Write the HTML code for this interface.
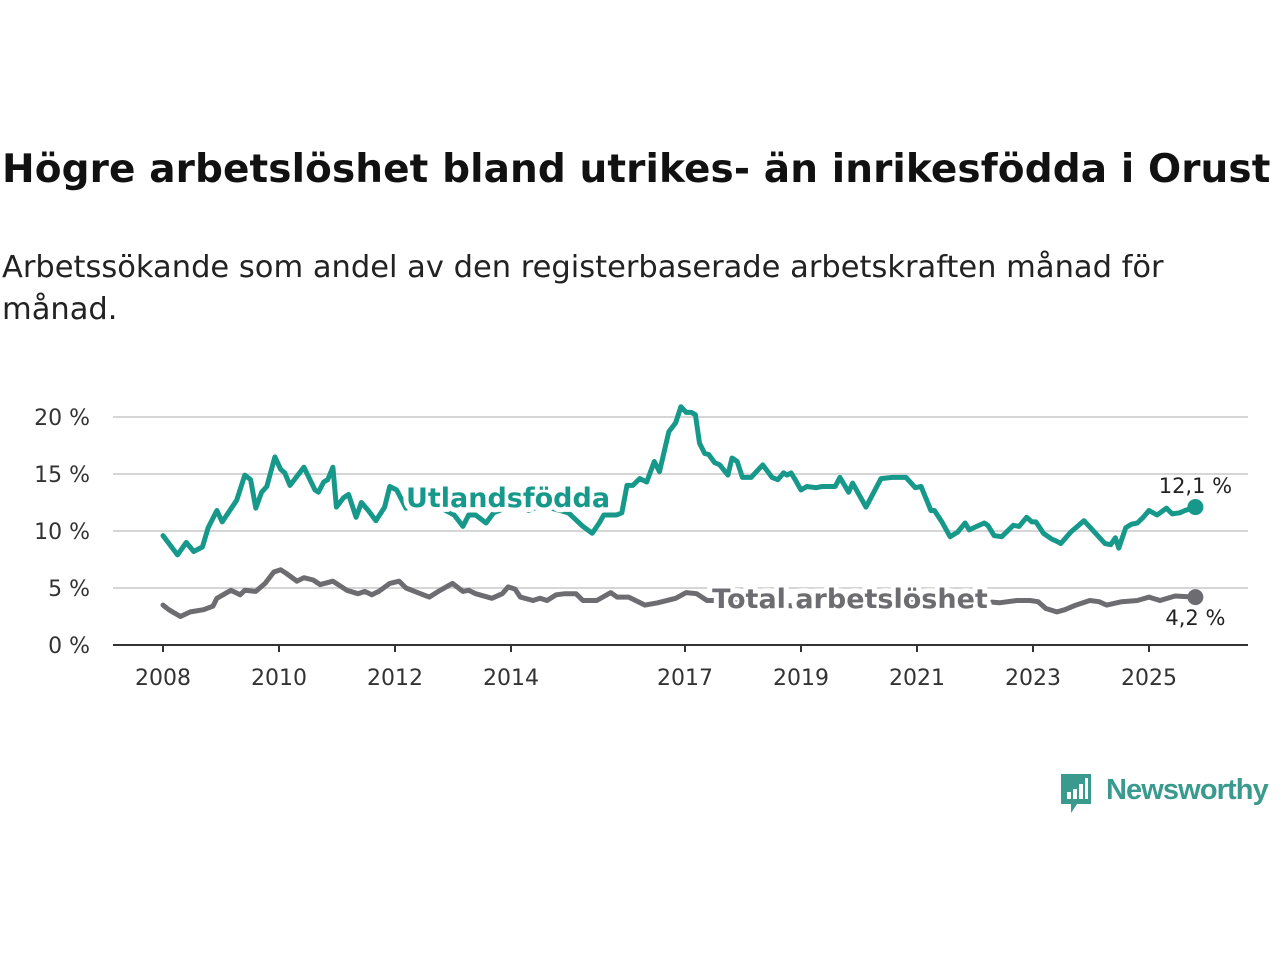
<!DOCTYPE html>
<html><head><meta charset="utf-8">
<style>
body{margin:0;background:#fff;width:1280px;height:960px;overflow:hidden;font-family:"Liberation Sans","DejaVu Sans",sans-serif;}
#title{position:absolute;left:2px;top:147px;font-size:39px;font-weight:bold;color:#111;letter-spacing:0.1px;white-space:nowrap;font-family:"DejaVu Sans","Liberation Sans",sans-serif;}
#sub{position:absolute;left:2px;top:247px;font-size:30.5px;line-height:42px;color:#222;width:1200px;font-family:"DejaVu Sans","Liberation Sans",sans-serif;}
svg{position:absolute;left:0;top:0;}
</style></head><body>
<div id="title">Högre arbetslöshet bland utrikes- än inrikesfödda i Orust</div>
<div id="sub">Arbetssökande som andel av den registerbaserade arbetskraften månad för månad.</div>
<svg id="chart" width="1280" height="960"></svg>
<div style="position:absolute;left:1059px;top:772px;">
<svg width="36" height="46" style="position:relative"><path d="M2 2h30v30H18l-6 9v-9H2z" fill="#3a9a8e"/><rect x="8" y="20" width="4" height="7" fill="#fff"/><rect x="14" y="17" width="4" height="10" fill="#fff"/><rect x="20" y="12" width="4" height="15" fill="#fff"/><rect x="26" y="6" width="3" height="21" fill="#fff"/></svg>
<span style="position:absolute;left:47px;top:2px;font-size:29px;font-weight:bold;color:#3a9a8e;white-space:nowrap;letter-spacing:-0.9px;">Newsworthy</span>
</div>
<script>
const yTicks=[0,5,10,15,20];
const xTicks=[2008,2010,2012,2014,2017,2019,2021,2023,2025];
const utlYears=[2008.0,2008.25,2008.4,2008.53,2008.68,2008.78,2008.93,2009.02,2009.27,2009.41,2009.51,2009.6,2009.7,2009.79,2009.93,2010.03,2010.1,2010.19,2010.43,2010.62,2010.68,2010.77,2010.84,2010.93,2010.99,2011.11,2011.2,2011.33,2011.42,2011.54,2011.67,2011.82,2011.91,2012.03,2012.19,2012.4,2012.6,2012.8,2013.02,2013.17,2013.27,2013.39,2013.57,2013.7,2013.9,2014.1,2014.3,2014.5,2014.7,2014.99,2015.24,2015.4,2015.52,2015.6,2015.82,2015.91,2016.0,2016.1,2016.22,2016.34,2016.47,2016.56,2016.72,2016.84,2016.93,2017.02,2017.11,2017.18,2017.25,2017.34,2017.41,2017.51,2017.6,2017.74,2017.81,2017.9,2017.99,2018.14,2018.34,2018.5,2018.6,2018.7,2018.76,2018.83,2018.9,2019.0,2019.1,2019.26,2019.36,2019.59,2019.67,2019.82,2019.89,2020.12,2020.38,2020.58,2020.81,2020.97,2021.07,2021.24,2021.3,2021.43,2021.57,2021.7,2021.83,2021.9,2022.03,2022.16,2022.22,2022.33,2022.46,2022.66,2022.76,2022.89,2022.98,2023.05,2023.18,2023.32,2023.41,2023.48,2023.65,2023.88,2024.08,2024.24,2024.34,2024.42,2024.48,2024.6,2024.7,2024.8,2024.9,2025.0,2025.14,2025.3,2025.4,2025.53,2025.62,2025.8];
const utlValues=[9.6,7.9,9.0,8.2,8.6,10.3,11.8,10.8,12.7,14.9,14.5,12.0,13.4,13.9,16.5,15.4,15.1,14.0,15.6,13.6,13.4,14.3,14.5,15.6,12.1,12.9,13.2,11.2,12.5,11.8,10.9,12.1,13.9,13.6,12.0,12.4,12.8,12.0,11.4,10.4,11.4,11.4,10.7,11.6,12.0,12.4,11.8,12.2,12.0,11.6,10.4,9.8,10.7,11.4,11.4,11.6,14.0,14.0,14.6,14.3,16.1,15.2,18.7,19.5,20.9,20.4,20.4,20.2,17.7,16.8,16.7,16.0,15.8,14.9,16.4,16.1,14.7,14.7,15.8,14.7,14.5,15.1,14.9,15.1,14.5,13.6,13.9,13.8,13.9,13.9,14.7,13.4,14.2,12.1,14.6,14.7,14.7,13.8,13.9,11.8,11.8,10.8,9.5,9.9,10.7,10.1,10.4,10.7,10.5,9.6,9.5,10.5,10.4,11.2,10.8,10.8,9.8,9.3,9.1,8.9,9.9,10.9,9.8,8.9,8.8,9.4,8.5,10.3,10.6,10.7,11.2,11.8,11.4,12.0,11.5,11.6,11.8,12.1];
const totYears=[2008.0,2008.1,2008.3,2008.47,2008.7,2008.86,2008.93,2009.17,2009.33,2009.41,2009.6,2009.76,2009.91,2010.03,2010.12,2010.31,2010.43,2010.59,2010.71,2010.93,2011.17,2011.36,2011.48,2011.6,2011.72,2011.91,2012.07,2012.19,2012.34,2012.59,2012.78,2012.99,2013.17,2013.27,2013.39,2013.67,2013.85,2013.95,2014.07,2014.16,2014.38,2014.5,2014.62,2014.78,2014.93,2015.12,2015.24,2015.48,2015.72,2015.83,2016.03,2016.31,2016.53,2016.84,2017.02,2017.2,2017.38,2017.51,2017.8,2018.2,2018.6,2019.0,2019.4,2019.8,2020.2,2020.6,2021.0,2021.4,2021.8,2022.22,2022.42,2022.72,2022.95,2023.09,2023.22,2023.41,2023.55,2023.74,2023.98,2024.14,2024.27,2024.53,2024.8,2025.0,2025.19,2025.45,2025.8];
const totValues=[3.5,3.1,2.5,2.9,3.1,3.4,4.1,4.8,4.4,4.8,4.7,5.4,6.4,6.6,6.3,5.6,5.9,5.7,5.3,5.6,4.8,4.5,4.7,4.4,4.7,5.4,5.6,5.0,4.7,4.2,4.8,5.4,4.7,4.8,4.5,4.1,4.5,5.1,4.9,4.2,3.9,4.1,3.9,4.4,4.5,4.5,3.9,3.9,4.6,4.2,4.2,3.5,3.7,4.1,4.6,4.5,3.9,3.9,3.7,3.6,3.5,3.4,3.6,3.5,4.5,4.3,3.9,3.6,3.4,3.8,3.7,3.9,3.9,3.8,3.2,2.9,3.1,3.5,3.9,3.8,3.5,3.8,3.9,4.2,3.9,4.3,4.2];

const NS='http://www.w3.org/2000/svg';
const svg=document.getElementById('chart');
const X0=113,X1=1248;
function xs(y){return 163+(y-2008)*58;}
function ys(v){return 645-v*11.4;}
function mk(tag,attrs){const e=document.createElementNS(NS,tag);for(const k in attrs)e.setAttribute(k,attrs[k]);svg.appendChild(e);return e;}
const ff='"DejaVu Sans","Liberation Sans",sans-serif';
yTicks.forEach(t=>{
  if(t>0){const g=mk('line',{x1:X0,x2:X1,y1:ys(t),y2:ys(t),stroke:'#d6d6d6','stroke-width':2});
  
  }
  const l=mk('text',{x:90,y:ys(t)+8,'text-anchor':'end','font-size':22,fill:'#333','font-family':ff});
  l.textContent=t+' %';
  
  
});
const ax=mk('line',{x1:X0,x2:X1,y1:645,y2:645,stroke:'#333','stroke-width':2});


xTicks.forEach(t=>{
  const tk=mk('line',{x1:xs(t),x2:xs(t),y1:645,y2:652,stroke:'#333','stroke-width':2});
  
  
  const l=mk('text',{x:xs(t),y:685,'text-anchor':'middle','font-size':22,fill:'#333','font-family':ff});
  l.textContent=t;
  
  
});
function line(yrs,vals,col,name){
  const d=yrs.map((y,i)=>(i?'L':'M')+xs(y).toFixed(1)+' '+ys(vals[i]).toFixed(1)).join(' ');
  const p=mk('path',{d:d,fill:'none',stroke:col,'stroke-width':5,'stroke-linejoin':'round','stroke-linecap':'round'});
  
  
  const n=yrs.length-1;
  const c=mk('circle',{cx:xs(yrs[n]),cy:ys(vals[n]),r:8,fill:col});
  
  
}
line(totYears,totValues,'#6d6c71','total-line');
line(utlYears,utlValues,'#16998a','utlandsfodda-line');
function lab(x,y,txt,col,name){
  const t=mk('text',{x:x,y:y,'text-anchor':'middle','font-size':27,'font-weight':'bold',fill:col,stroke:'#fff','stroke-width':10,'paint-order':'stroke','stroke-linejoin':'round','font-family':ff});
  t.textContent=txt;
  
  
}
lab(508,507,'Utlandsfödda','#16998a','utlandsfodda-label');
lab(850,608,'Total arbetslöshet','#6d6c71','total-label');
function end(x,y,txt,name){
  const t=mk('text',{x:x,y:y,'text-anchor':'middle','font-size':21,fill:'#222','font-family':ff});
  t.textContent=txt;
  
  
}
end(xs(utlYears[utlYears.length-1]),ys(utlValues[utlValues.length-1])-14,'12,1 %','utlandsfodda-end-value');
end(xs(totYears[totYears.length-1]),ys(totValues[totValues.length-1])+28,'4,2 %','total-end-value');
</script>
</body></html>
